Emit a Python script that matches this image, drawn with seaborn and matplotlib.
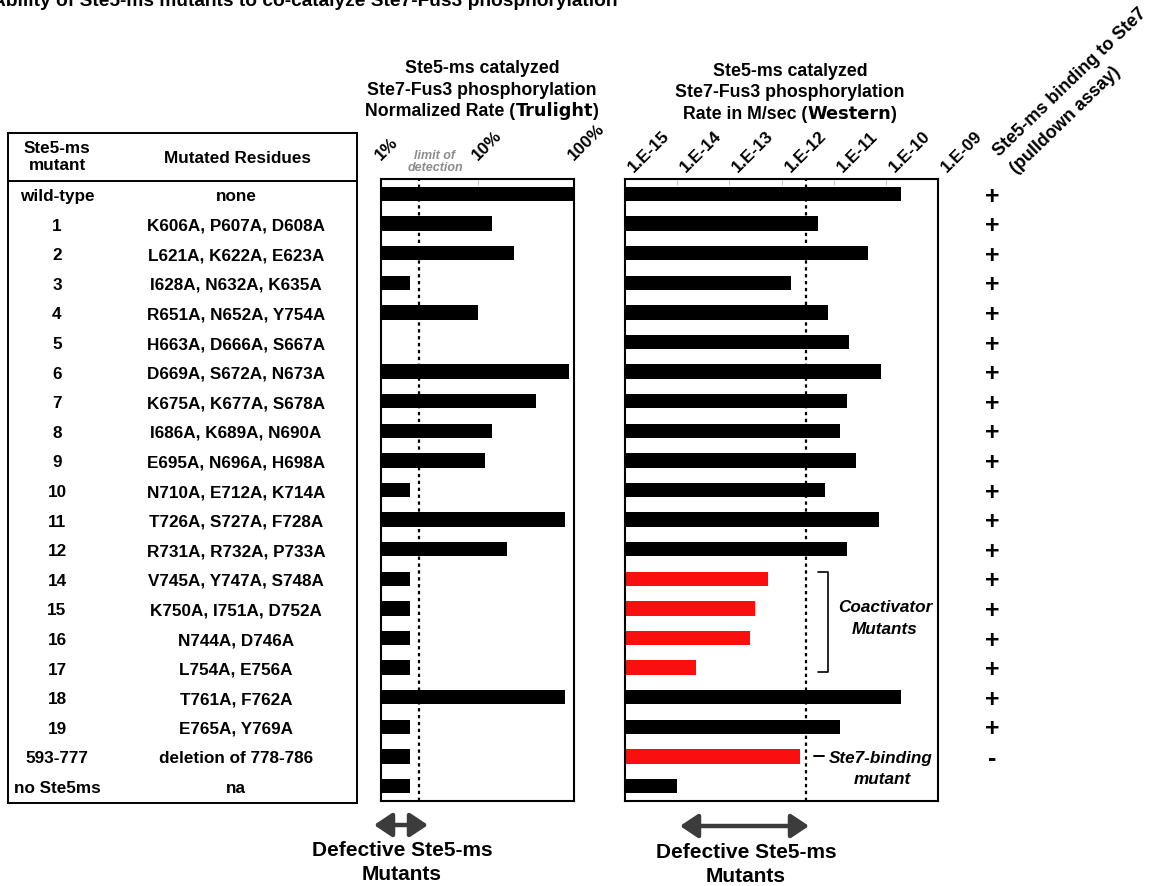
import matplotlib
matplotlib.use("Agg")
import matplotlib.pyplot as plt
import matplotlib.transforms as mtransforms
from matplotlib.patches import Rectangle, FancyArrowPatch
from matplotlib.ticker import NullLocator
import numpy as np
import pandas as pd
import seaborn as sns

sns.set_style("white")
plt.rcParams['font.family'] = ['Liberation Sans', 'DejaVu Sans']
plt.rcParams['font.weight'] = 'bold'
plt.rcParams['text.color'] = 'black'

# data
mutant_ids = ["wild-type", "1", "2", "3", "4", "5", "6", "7", "8", "9", "10", "11", "12",
              "14", "15", "16", "17", "18", "19", "593-777", "no Ste5ms"]
mutated_residues = ["none", "K606A, P607A, D608A", "L621A, K622A, E623A", "I628A, N632A, K635A",
                    "R651A, N652A, Y754A", "H663A, D666A, S667A", "D669A, S672A, N673A",
                    "K675A, K677A, S678A", "I686A, K689A, N690A", "E695A, N696A, H698A",
                    "N710A, E712A, K714A", "T726A, S727A, F728A", "R731A, R732A, P733A",
                    "V745A, Y747A, S748A", "K750A, I751A, D752A", "N744A, D746A", "L754A, E756A",
                    "T761A, F762A", "E765A, Y769A", "deletion of 778-786", "na"]
trulight_pct = [100, 14, 24, 2.0, 10, np.nan, 89, 40, 14, 12, 2.0, 80, 20,
                2.0, 2.0, 2.0, 2.0, 80, 2.0, 2.0, 2.0]
western_rate = [1.95e-10, 5.1e-12, 4.5e-11, 1.5e-12, 7.8e-12, 1.95e-11, 8.0e-11, 1.85e-11,
                1.35e-11, 2.65e-11, 6.9e-12, 7.6e-11, 1.8e-11, 5.6e-13, 3.1e-13, 2.5e-13,
                2.3e-14, 1.95e-10, 1.35e-11, 2.25e-12, 1.0e-14]
western_group = ["other"] * 13 + ["coactivator"] * 4 + ["other"] * 2 + ["binding", "other"]
binding_ste7 = ["+"] * 19 + ["-", ""]
trulight_ticks = [1, 10, 100]
trulight_labels = ["1%", "10%", "100%"]
western_ticks = [1e-15, 1e-14, 1e-13, 1e-12, 1e-11, 1e-10, 1e-09]
western_labels = ["1.E-15", "1.E-14", "1.E-13", "1.E-12", "1.E-11", "1.E-10", "1.E-09"]
trulight_limit = 2.5
western_limit = 3e-12

df = pd.DataFrame({"mutant": mutant_ids, "trulight": trulight_pct,
                   "western": western_rate, "group": western_group})

RED = "#fa0f0f"
W, H = 1149, 886
fig = plt.figure(figsize=(W / 100, H / 100), dpi=100)


def px_axes(x0, y0, x1, y1):
    return fig.add_axes([x0 / W, 1 - y1 / H, (x1 - x0) / W, (y1 - y0) / H])


row0, row_h = 194.0, 29.6
top_px, bot_px = row0 - row_h / 2, row0 + row_h * 20.5

ax1 = px_axes(381, top_px, 574, bot_px)
ax2 = px_axes(625.3, top_px, 937.7, bot_px)

sns.barplot(data=df, x="trulight", y="mutant", order=mutant_ids, color="black",
            saturation=1, width=0.48, linewidth=0, orient="h", ax=ax1)
sns.barplot(data=df, x="western", y="mutant", order=mutant_ids, hue="group",
            palette={"other": "black", "coactivator": RED, "binding": RED},
            saturation=1, width=0.48, linewidth=0, dodge=False, legend=False,
            orient="h", ax=ax2)

for ax, lim, ticks, labels, dx, dy in [
        (ax1, (1, 100), trulight_ticks, trulight_labels, 2, 16),
        (ax2, (1e-15, 1e-9), western_ticks, western_labels, 11, 4)]:
    ax.set_xscale("log")
    ax.set_xlim(*lim)
    ax.set_ylim(20.5, -0.5)
    ax.set_xlabel("")
    ax.set_ylabel("")
    ax.set_yticks([])
    ax.set_xticks(ticks, [""] * len(ticks))
    ax.xaxis.set_minor_locator(NullLocator())
    ax.xaxis.set_ticks_position("top")
    ax.tick_params(axis="x", which="major", direction="in", length=4, width=0.8,
                   color="#c8c8c8")
    for sp in ax.spines.values():
        sp.set_visible(True)
        sp.set_color("black")
        sp.set_linewidth(1.5)
    trans = mtransforms.blended_transform_factory(ax.transData, ax.transAxes) + \
        mtransforms.ScaledTranslation(dx / 100, dy / 100, fig.dpi_scale_trans)
    for t, lab in zip(ticks, labels):
        ax.text(t, 1, lab, transform=trans, rotation=45, rotation_mode="anchor",
                ha="left", va="bottom", fontsize=12.5, fontweight="bold")

ax1.axvline(trulight_limit, color="black", lw=1.6, ls=(0, (1.5, 1.6)), zorder=0.5)
ax2.axvline(western_limit, color="black", lw=1.6, ls=(0, (1.5, 1.6)), zorder=0.5)

# overlay in pixel coordinates for the table and annotations
ov = fig.add_axes([0, 0, 1, 1], zorder=10)
ov.set_xlim(0, W)
ov.set_ylim(H, 0)
ov.axis("off")

ov.text(-8, 6, "Ability of Ste5-ms mutants to co-catalyze Ste7-Fus3 phosphorylation",
        ha="left", va="baseline", fontsize=13.8, fontweight="bold")

# table
ov.add_patch(Rectangle((8, 133), 349, 670, fill=False, lw=1.4, ec="black"))
ov.plot([8, 357], [181, 181], color="black", lw=1.4)
ov.text(57, 157, "Ste5-ms\nmutant", ha="center", va="center", fontsize=12.3,
        fontweight="bold", linespacing=1.15)
ov.text(238, 158, "Mutated Residues", ha="center", va="center", fontsize=12.3,
        fontweight="bold")
for i, (mid, res, b) in enumerate(zip(mutant_ids, mutated_residues, binding_ste7)):
    y = row0 + row_h * i + 1
    ov.text(57, y, mid, ha="center", va="center_baseline", fontsize=12.3, fontweight="bold")
    ov.text(236, y, res, ha="center", va="center_baseline", fontsize=12.3, fontweight="bold")
    if b:
        ov.text(992, y - 1, b, ha="center", va="center_baseline", fontsize=18,
                fontweight="bold")

# panel titles with the heavier method word
LIB = ["Liberation Sans", "DejaVu Sans"]
DEJ = ["DejaVu Sans"]
title_lines = []


def rich_line(xc, yb, parts, size=12.8):
    first = ov.text(xc, yb, parts[0][0], ha="left", va="baseline", fontsize=size,
                    fontweight="bold", family=parts[0][1])
    pieces = [first]
    for s, fam in parts[1:]:
        t = ov.annotate(s, xy=(1, 0), xycoords=pieces[-1], ha="left", va="bottom",
                        fontsize=size, fontweight="bold", family=fam)
        pieces.append(t)
    title_lines.append((first, pieces, xc))


rich_line(482, 73, [("Ste5-ms catalyzed", LIB)])
rich_line(482, 95, [("Ste7-Fus3 phosphorylation", LIB)])
rich_line(482, 116, [("Normalized Rate (", LIB), ("Trulight", DEJ), (")", LIB)])
rich_line(790, 76, [("Ste5-ms catalyzed", LIB)])
rich_line(790, 97, [("Ste7-Fus3 phosphorylation", LIB)])
rich_line(790, 119, [("Rate in M/sec (", LIB), ("Western", DEJ), (")", LIB)])

ov.text(435, 162, "limit of\ndetection", ha="center", va="center", fontsize=9,
        fontweight="bold", style="italic", color="#8c8c8c", linespacing=1.05)

# binding column header
ov.text(999, 157, "Ste5-ms binding to Ste7", rotation=44, rotation_mode="anchor",
        ha="left", va="baseline", fontsize=13, fontweight="bold")
ov.text(1016, 174, "(pulldown assay)", rotation=44, rotation_mode="anchor",
        ha="left", va="baseline", fontsize=13, fontweight="bold")

# coactivator bracket
ov.plot([818, 828, 828, 818], [572, 572, 672, 672], color="black", lw=1.2)
ov.text(885, 608, "Coactivator", ha="center", va="center", fontsize=12.3,
        fontweight="bold", style="italic")
ov.text(885, 630, "Mutants", ha="center", va="center", fontsize=12.3,
        fontweight="bold", style="italic")
ov.plot([814, 824], [756, 756], color="black", lw=1.4)
ov.text(881, 758, "Ste7-binding", ha="center", va="center", fontsize=12.3,
        fontweight="bold", style="italic")
ov.text(882, 780, "mutant", ha="center", va="center", fontsize=12.3,
        fontweight="bold", style="italic")

# defective arrows
for x0, x1, y, xc, ty in [(374, 428, 825, 402, 850), (680, 809, 826, 746, 852)]:
    ov.add_patch(FancyArrowPatch((x0, y), (x1, y),
                                 arrowstyle="<|-|>,head_length=0.6,head_width=0.4",
                                 mutation_scale=18, lw=3.2, color="#3c3c3c",
                                 shrinkA=0, shrinkB=0))
    ov.text(xc, ty, "Defective Ste5-ms", ha="center", va="center", fontsize=15,
            fontweight="bold")
    ov.text(xc, ty + 24, "Mutants", ha="center", va="center", fontsize=15,
            fontweight="bold")

fig.canvas.draw()
renderer = fig.canvas.get_renderer()
for first, pieces, xc in title_lines:
    total = sum(p.get_window_extent(renderer).width for p in pieces)
    first.set_x(xc - total / 2)

fig.savefig("out.png", dpi=100)
